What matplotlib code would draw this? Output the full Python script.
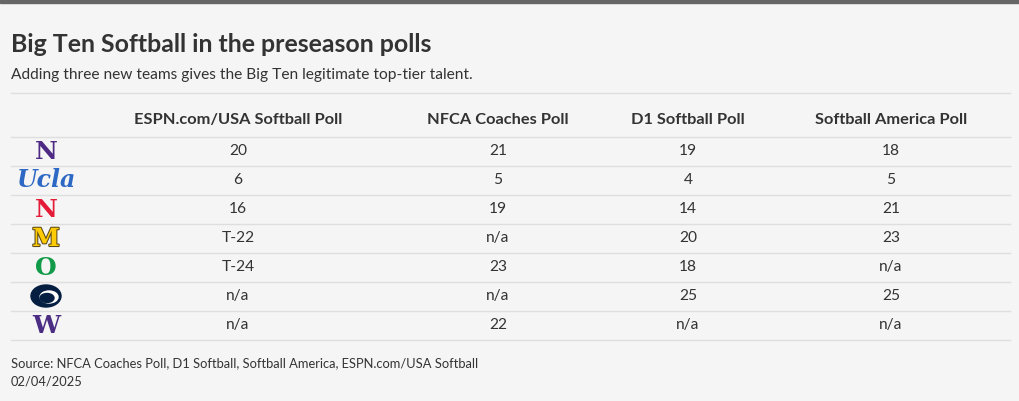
import matplotlib.pyplot as plt
import matplotlib.patheffects as pe
from matplotlib.patches import Ellipse

plt.rcParams['font.family'] = ['Lato', 'DejaVu Sans']

title = 'Big Ten Softball in the preseason polls'
subtitle = 'Adding three new teams gives the Big Ten legitimate top-tier talent.'
source = 'Source: NFCA Coaches Poll, D1 Softball, Softball America, ESPN.com/USA Softball'
date = '02/04/2025'

polls = ['ESPN.com/USA Softball Poll', 'NFCA Coaches Poll', 'D1 Softball Poll', 'Softball America Poll']
teams = ['Northwestern', 'UCLA', 'Nebraska', 'Michigan', 'Oregon', 'Penn State', 'Washington']
espn = ['20', '6', '16', 'T-22', 'T-24', 'n/a', 'n/a']
nfca = ['21', '5', '19', 'n/a', '23', 'n/a', '22']
d1 = ['19', '4', '14', '20', '18', '25', 'n/a']
sa = ['18', '5', '21', '23', 'n/a', '25', 'n/a']

# logo stand-ins: text, colour
logos = {
    'Northwestern': ('N', '#4e2a84'),
    'UCLA': ('Ucla', '#2d68c4'),
    'Nebraska': ('N', '#e41c38'),
    'Michigan': ('M', '#ffcb05'),
    'Oregon': ('O', '#119a48'),
    'Penn State': (None, '#041e42'),
    'Washington': ('W', '#4b2e83'),
}

W, H = 1020, 401
fig = plt.figure(figsize=(W / 100, H / 100), dpi=100, facecolor='#f5f5f5')
ax = fig.add_axes([0, 0, 1, 1])
ax.set_xlim(0, W)
ax.set_ylim(H, 0)
ax.axis('off')

txt = '#333333'
grid = '#dedede'

ax.axhspan(0, 3, color='#666666')
ax.text(11, 44, title, fontsize=17.9, fontweight='bold', color=txt, va='center')
ax.text(11, 75, subtitle, fontsize=11.2, color=txt, va='center')
ax.plot([11, 1010], [92.5, 92.5], color=grid, lw=1)

col_x = [238, 498, 688, 891]
for x, p in zip(col_x, polls):
    ax.text(x, 120, p, fontsize=11.8, fontweight='bold', color=txt, ha='center', va='center')
ax.plot([11, 1010], [136.5, 136.5], color=grid, lw=1)

cols = [espn, nfca, d1, sa]
row_h = 29
for i, team in enumerate(teams):
    y = 151 + i * row_h
    for x, c in zip(col_x, cols):
        ax.text(x, y, c[i], fontsize=11.2, color=txt, ha='center', va='center')
    ax.plot([11, 1010], [y + 14.5, y + 14.5], color=grid, lw=1)

    s, color = logos[team]
    if s is None:
        ax.add_patch(Ellipse((46, y), 30, 22, color=color))
        ax.add_patch(Ellipse((49, y + 1), 18, 12, color='white'))
        ax.add_patch(Ellipse((47, y + 2), 14, 9, color=color))
    elif team == 'Michigan':
        ax.text(46, y + 1, s, fontsize=18, fontweight='black', color=color, ha='center', va='center',
                family='DejaVu Serif',
                path_effects=[pe.Stroke(linewidth=1.5, foreground='#5a4a1a'), pe.Normal()])
    elif team == 'UCLA':
        ax.text(46, y, s, fontsize=17, fontweight='bold', style='italic', color=color,
                ha='center', va='center', family='DejaVu Serif')
    else:
        ax.text(46, y + 1, s, fontsize=18, fontweight='black', color=color, ha='center', va='center',
                family='DejaVu Serif')

ax.text(11, 363, source, fontsize=9.3, color=txt, va='center')
ax.text(11, 381, date, fontsize=9.3, color=txt, va='center')

fig.savefig('out.png', dpi=100, facecolor=fig.get_facecolor())
